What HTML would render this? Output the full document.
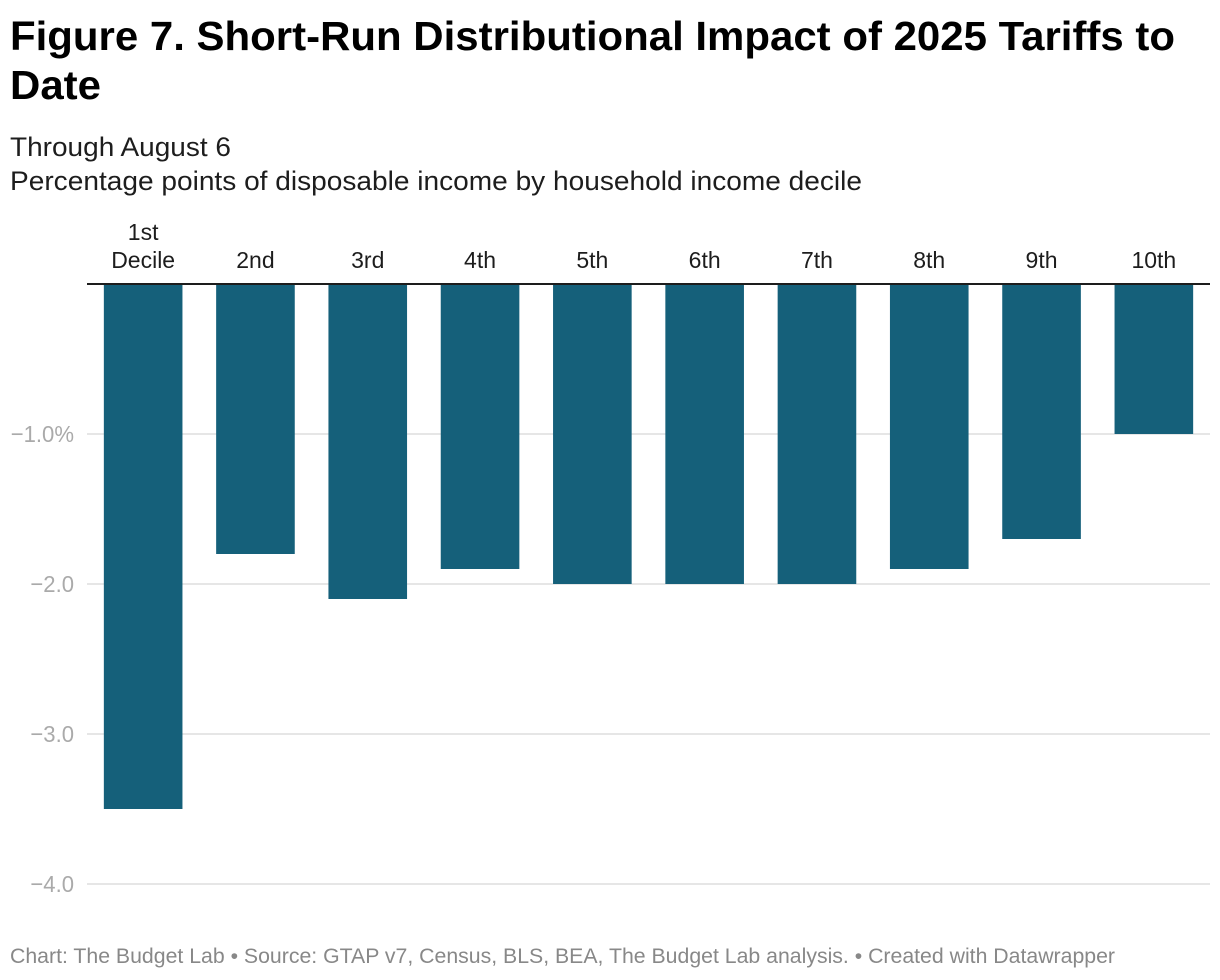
<!DOCTYPE html>
<html lang="en">
<head>
<meta charset="utf-8">
<title>Figure 7. Short-Run Distributional Impact of 2025 Tariffs to Date</title>
<style>
html,body{margin:0;padding:0;background:#fff;}
svg{display:block;font-family:"Liberation Sans",Arial,sans-serif;}
</style>
</head>
<body>
<svg id="chart" xmlns="http://www.w3.org/2000/svg" width="1220" height="980" viewBox="0 0 1220 980">
  <rect x="0" y="0" width="1220" height="980" fill="#ffffff"/>
  <text x="10" y="50" font-size="41" font-weight="700" fill="#000" textLength="1165" lengthAdjust="spacingAndGlyphs">Figure 7. Short-Run Distributional Impact of 2025 Tariffs to</text>
  <text x="10" y="99" font-size="41" font-weight="700" fill="#000" textLength="91" lengthAdjust="spacingAndGlyphs">Date</text>
  <text x="10" y="156" font-size="27" fill="#1d1d1d" textLength="221" lengthAdjust="spacingAndGlyphs">Through August 6</text>
  <text x="10" y="190" font-size="27" fill="#1d1d1d" textLength="852" lengthAdjust="spacingAndGlyphs">Percentage points of disposable income by household income decile</text>
  <g id="grid"></g>
  <g id="y-ticks"></g>
  <g id="bars"></g>
  <g id="x-labels"></g>
  <text x="10" y="963" font-size="21" fill="#888888" textLength="1105" lengthAdjust="spacingAndGlyphs">Chart: The Budget Lab • Source: GTAP v7, Census, BLS, BEA, The Budget Lab analysis. • Created with Datawrapper</text>
</svg>
<script>
const categories = ["1st Decile", "2nd", "3rd", "4th", "5th", "6th", "7th", "8th", "9th", "10th"];
const seriesValues = [-3.5, -1.8, -2.1, -1.9, -2.0, -2.0, -2.0, -1.9, -1.7, -1.0];
const tickValues = [-1, -2, -3, -4];
const tickLabels = ["\u22121.0%", "\u22122.0", "\u22123.0", "\u22124.0"];

const NS = "http://www.w3.org/2000/svg";
const plotLeft = 87, plotRight = 1210, zeroY = 284, pxPerUnit = 150, barRatio = 0.7;
const bandWidth = (plotRight - plotLeft) / categories.length;
const xCenter = i => plotLeft + bandWidth * (i + 0.5);
const yScale = v => zeroY - v * pxPerUnit;

function make(tag, attrs, parent, text) {
  const el = document.createElementNS(NS, tag);
  for (const k in attrs) el.setAttribute(k, attrs[k]);
  if (text !== undefined) el.textContent = text;
  parent.appendChild(el);
  return el;
}

const gridGroup = document.getElementById("grid");
const tickGroup = document.getElementById("y-ticks");
tickValues.forEach((v, i) => {
  const y = yScale(v);
  const line = make("line", {x1: plotLeft, x2: plotRight, y1: y, y2: y, stroke: "#e6e6e6", "stroke-width": 2}, gridGroup);
  
  
  const label = make("text", {x: 74, y: y + 8, "text-anchor": "end", "font-size": 23.5, fill: "#aaaaaa"}, tickGroup, tickLabels[i]);
  
  
  label.setAttribute('lengthAdjust', 'spacingAndGlyphs');
  label.setAttribute('textLength', (label.getComputedTextLength() * 0.94).toFixed(1));
});

const barGroup = document.getElementById("bars");
const labelGroup = document.getElementById("x-labels");
const barWidth = bandWidth * barRatio;
categories.forEach((c, i) => {
  const v = seriesValues[i];
  const bar = make("rect", {x: xCenter(i) - barWidth / 2, y: Math.min(yScale(v), zeroY), width: barWidth, height: Math.abs(yScale(v) - zeroY), fill: "#15607a"}, barGroup);
  
  
  const parts = c.split(" ");
  parts.forEach((p, j) => {
    const t = make("text", {x: xCenter(i), y: 268 - (parts.length - 1 - j) * 28, "text-anchor": "middle", "font-size": 23, fill: "#1d1d1d"}, labelGroup, p);
    
    
  });
});

const axisLine = make("line", {x1: plotLeft, x2: plotRight, y1: zeroY, y2: zeroY, stroke: "#1d1d1d", "stroke-width": 2}, document.getElementById("chart"));


</script>
</body>
</html>
